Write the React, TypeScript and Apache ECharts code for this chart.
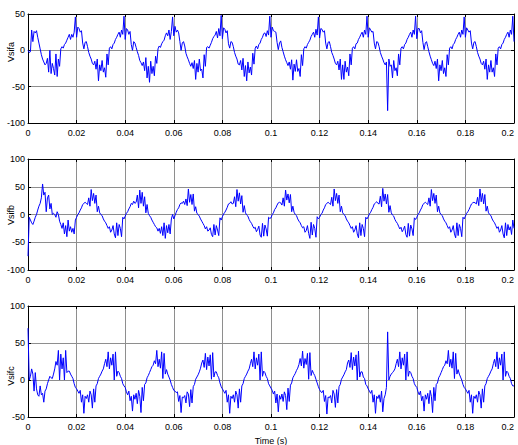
import React, { useEffect, useRef } from "react";
import * as echarts from "echarts";

// sample interval of the recorded waveforms (s)
const SAMPLE_STEP = 0.0005;

const xTickValues = [0, 0.02, 0.04, 0.06, 0.08, 0.1, 0.12, 0.14, 0.16, 0.18, 0.2];
const yTicksA = [-100, -50, 0, 50];
const yTicksB = [-100, -50, 0, 50, 100];
const yTicksC = [-50, 0, 50, 100];

const axisNames = ["Vsifa", "Vsifb", "Vsifc"];
const xAxisName = "Time (s)";

const vsifa = [
  0, -3, -2, 28, 12, 26, 24, 27, 18, 10, 2, -6, -12, -16, -20, -18, -11, -30, 0, -32, -18, -25, -34, -5, -36, -12, -22, 2, 5, 3, 8, 10, 14, 18, 22, 15, 22, 18, 25, 46,
  18, 32, 30, 25, 27, 10, 2, 11, 12, 5, -3, -8, -12, -18, -20, -15, -26, -12, -42, -20, -28, -14, -30, -24, -37, -5, -20, 3, 5, 2, 8, 10, 15, 18, 22, 25, 18, 28, 22, 47,
  15, 30, 28, 22, 26, 8, 0, 12, 10, 4, -2, -7, -14, -17, -21, -16, -28, -10, -38, -22, -44, -15, -32, -22, -35, -8, -18, 2, 6, 4, 9, 12, 14, 20, 24, 20, 28, 15, 26, 46,
  20, 33, 25, 28, 24, 12, 0, 10, 12, 6, -4, -9, -13, -18, -22, -17, -25, -14, -40, -18, -30, -12, -28, -26, -38, -6, -22, 4, 5, 3, 7, 11, 16, 19, 21, 26, 17, 30, 20, 48,
  16, 31, 29, 24, 27, 9, 3, 12, 11, 5, -3, -8, -12, -19, -20, -14, -27, -11, -36, -21, -42, -16, -31, -23, -34, -4, -19, 3, 6, 2, 8, 10, 15, 18, 23, 24, 19, 27, 21, 47,
  18, 32, 27, 26, 25, 11, 1, 10, 13, 4, -2, -8, -13, -17, -21, -16, -26, -13, -41, -19, -29, -13, -29, -25, -36, -6, -21, 2, 5, 3, 8, 11, 14, 19, 22, 25, 18, 29, 21, 46,
  17, 30, 29, 25, 27, 10, 2, 11, 12, 5, -3, -7, -12, -18, -20, -15, -27, -12, -40, -20, -40, -15, -30, -23, -35, -5, -20, 3, 5, 2, 9, 10, 15, 18, 22, 25, 18, 28, 22, 47,
  18, 31, 28, 25, 26, 10, 2, 12, 11, 5, -3, -8, -12, -17, -20, -16, -83, -12, -22, -20, -38, -14, -28, -24, -35, -5, -20, 3, 5, 2, 8, 10, 15, 18, 22, 25, 18, 28, 22, 47,
  16, 30, 30, 24, 27, 11, 1, 10, 12, 5, -2, -8, -13, -18, -21, -15, -25, -12, -42, -20, -28, -14, -32, -24, -36, -6, -20, 3, 5, 2, 8, 10, 15, 18, 22, 25, 18, 28, 22, 46,
  18, 31, 28, 25, 27, 10, 2, 11, 12, 5, -3, -8, -12, -18, -20, -15, -26, -12, -40, -20, -30, -14, -30, -24, -36, -5, -20, 3, 5, 2, 8, 10, 15, 18, 22, 25, 18, 28, 22, 47,
  12,
];

const vsifb = [
  -75, -5, -10, -15, -18, -12, -5, 0, 8, 15, 20, 30, 55, 35, 40, 5, 30, 35, 10, 20, 0, 2, 0, -5, 5, 0, -12, -18, -25, -15, -35, -20, -40, -10, -30, -22, -32, -25, -35, -10,
  -5, 0, 3, 8, 12, 18, 20, 22, 20, 18, 30, 15, 45, 25, 38, 20, 35, 5, 15, 3, 0, -2, -8, -12, -15, -20, -25, -22, -32, -28, -20, -35, -42, -15, -38, -18, -25, -40, -5, -8,
  -3, 2, 5, 10, 14, 20, 18, 24, 20, 22, 35, 12, 44, 20, 40, 15, 32, 3, 18, 2, -2, -5, -10, -14, -18, -22, -24, -30, -25, -34, -22, -38, -15, -43, -20, -33, -18, -35, -8, 0,
  -8, -2, 4, 9, 12, 18, 21, 20, 24, 18, 28, 16, 46, 22, 36, 18, 37, 6, 14, 2, 0, -3, -8, -12, -16, -20, -26, -22, -30, -28, -24, -36, -40, -18, -37, -20, -28, -38, -6, -10,
  -4, 1, 4, 8, 13, 19, 20, 23, 19, 20, 32, 14, 45, 24, 39, 19, 34, 4, 16, 3, -1, -3, -9, -13, -16, -21, -25, -23, -31, -27, -21, -37, -41, -16, -39, -19, -26, -39, -5, -7,
  -6, 0, 3, 9, 12, 17, 21, 22, 21, 17, 30, 15, 44, 26, 37, 21, 36, 5, 15, 4, 0, -2, -8, -12, -15, -20, -24, -22, -32, -29, -20, -34, -43, -14, -37, -18, -25, -41, -4, -8,
  -5, 0, 2, 8, 12, 18, 20, 22, 20, 18, 31, 15, 46, 25, 38, 20, 35, 5, 15, 3, 0, -2, -8, -12, -15, -20, -25, -22, -32, -28, -20, -35, -42, -15, -38, -18, -25, -40, -5, -8,
  -4, 1, 4, 9, 13, 19, 21, 23, 20, 19, 33, 14, 47, 24, 37, 19, 36, 4, 16, 3, -1, -3, -9, -13, -16, -21, -26, -23, -31, -27, -21, -36, -41, -16, -39, -19, -26, -38, -6, -9,
  -5, 0, 3, 8, 12, 18, 20, 22, 20, 18, 30, 15, 45, 25, 38, 20, 35, 5, 15, 3, 0, -2, -8, -12, -15, -20, -25, -22, -32, -28, -20, -35, -42, -15, -38, -18, -25, -40, -5, -8,
  -3, 2, 5, 9, 14, 19, 21, 22, 21, 19, 31, 16, 46, 23, 38, 19, 36, 6, 15, 3, 0, -2, -8, -12, -15, -20, -25, -22, -32, -28, -20, -35, -42, -15, -38, -18, -28, -22, -36, -10,
  -25,
];

const vsifc = [
  70, 0, 5, 15, 8, -15, 10, -12, -20, -22, -8, -20, -18, -30, -15, -12, -5, 0, 5, 3, 2, 8, 15, 25, 20, 40, 0, 35, 15, 30, 0, 40, 10, 12, 12, 8, 5, 2, -5, -10,
  -12, -15, -18, -14, -30, -20, -45, -22, -25, -20, -30, -15, -20, -38, -12, -30, -8, -5, 2, 5, 8, 12, 15, 22, 28, 18, 38, 15, 30, 20, 35, 0, 38, 5, 12, 10, 5, 2, -5, -8,
  -10, -16, -20, -15, -28, -22, -42, -20, -26, -18, -32, -14, -22, -44, -10, -28, -6, -4, 3, 6, 10, 14, 18, 20, 26, 22, 40, 18, 28, 16, 38, 2, 36, 8, 14, 8, 4, 0, -6, -10,
  -14, -15, -17, -16, -29, -21, -44, -23, -24, -21, -31, -16, -19, -36, -13, -31, -9, -6, 1, 4, 7, 11, 16, 23, 27, 17, 36, 14, 31, 19, 34, 1, 37, 4, 11, 11, 6, 3, -4, -9,
  -12, -15, -18, -14, -30, -20, -45, -22, -25, -20, -30, -15, -20, -38, -12, -30, -8, -5, 2, 5, 8, 12, 15, 22, 28, 18, 38, 15, 30, 20, 35, 0, 38, 5, 12, 10, 5, 2, -5, -8,
  -11, -14, -19, -15, -31, -19, -43, -21, -26, -19, -29, -16, -21, -40, -11, -29, -7, -4, 3, 6, 9, 13, 16, 21, 29, 19, 39, 16, 29, 21, 36, 1, 37, 6, 13, 9, 6, 1, -4, -9,
  -13, -16, -17, -14, -29, -21, -46, -23, -24, -21, -31, -14, -19, -37, -13, -31, -9, -6, 1, 4, 7, 11, 14, 23, 27, 17, 37, 14, 31, 19, 34, 0, 39, 4, 11, 11, 4, 2, -6, -8,
  -12, -15, -18, -14, -30, -20, -45, -22, -25, -20, -30, -15, -43, -25, -20, -10, 65, 0, 5, 8, 10, 12, 15, 22, 28, 18, 38, 15, 30, 20, 35, 0, 38, 5, 12, 10, 5, 2, -5, -8,
  -10, -16, -20, -15, -28, -22, -42, -20, -26, -18, -32, -14, -22, -44, -10, -28, -6, -4, 3, 6, 10, 14, 18, 20, 26, 22, 40, 18, 28, 16, 38, 2, 36, 8, 14, 8, 4, 0, -6, -10,
  -12, -15, -18, -14, -30, -20, -45, -22, -25, -20, -30, -15, -20, -38, -12, -30, -8, -5, 2, 5, 8, 12, 15, 22, 28, 18, 38, 15, 30, 20, 35, 0, 38, 5, 12, 10, 5, 2, -5, -8,
  -8,
];

const FONT = "'Liberation Sans', Arial, sans-serif";
const GRID_COLOR = "#8e8e8e";

const fmtX = (v: number) => String(parseFloat(v.toFixed(3)));

export default function App() {
  const ref = useRef<HTMLDivElement>(null);

  useEffect(() => {
    if (!ref.current) return;
    const chart = echarts.init(ref.current, undefined, { renderer: "svg" });

    const grids = [
      { top: 14, height: 109 },
      { top: 159, height: 111 },
      { top: 306, height: 111 },
    ];
    const yTicks = [yTicksA, yTicksB, yTicksC];
    const values = [vsifa, vsifb, vsifc];
    const nameY = [52, 215, 376];

    const xAxes: any[] = [];
    const yAxes: any[] = [];
    grids.forEach((_, i) => {
      xAxes.push({
        type: "value",
        gridIndex: i,
        position: "bottom",
        min: xTickValues[0],
        max: xTickValues[xTickValues.length - 1],
        interval: 0.02,
        name: i === 2 ? xAxisName : "",
        nameLocation: "middle",
        nameGap: 19,
        nameTextStyle: { fontFamily: FONT, fontSize: 9, color: "#000" },
        axisLine: { show: true, onZero: false, lineStyle: { color: "#000", width: 1 } },
        axisTick: { show: true, inside: true, length: 3, lineStyle: { color: "#000" } },
        axisLabel: {
          fontFamily: FONT,
          fontSize: 9,
          color: "#000",
          margin: 5,
          formatter: fmtX,
          alignMaxLabel: "right",
        },
        splitLine: { show: true, lineStyle: { color: GRID_COLOR, width: 1 } },
      });
      xAxes.push({
        type: "value",
        gridIndex: i,
        position: "top",
        min: xTickValues[0],
        max: xTickValues[xTickValues.length - 1],
        interval: 0.02,
        axisLine: { show: true, onZero: false, lineStyle: { color: "#000", width: 1 } },
        axisTick: { show: true, inside: true, length: 3, lineStyle: { color: "#000" } },
        axisLabel: { show: false },
        splitLine: { show: false },
      });
      const yt = yTicks[i];
      yAxes.push({
        type: "value",
        gridIndex: i,
        position: "left",
        min: yt[0],
        max: yt[yt.length - 1],
        interval: 50,
        axisLine: { show: true, onZero: false, lineStyle: { color: "#000", width: 1 } },
        axisTick: { show: true, inside: true, length: 3, lineStyle: { color: "#000" } },
        axisLabel: { fontFamily: FONT, fontSize: 9, color: "#000", margin: 3 },
        splitLine: { show: true, lineStyle: { color: GRID_COLOR, width: 1 } },
      });
      yAxes.push({
        type: "value",
        gridIndex: i,
        position: "right",
        min: yt[0],
        max: yt[yt.length - 1],
        interval: 50,
        axisLine: { show: true, onZero: false, lineStyle: { color: "#000", width: 1 } },
        axisTick: { show: true, inside: true, length: 3, lineStyle: { color: "#000" } },
        axisLabel: { show: false },
        splitLine: { show: false },
      });
    });

    const series = values.map((arr, i) => ({
      type: "line",
      xAxisIndex: i * 2,
      yAxisIndex: i * 2,
      showSymbol: false,
      symbol: "none",
      clip: true,
      lineStyle: { color: "#0000ff", width: 1 },
      data: arr.map((v, k) => [k * SAMPLE_STEP, v]),
    }));

    chart.setOption({
      animation: false,
      backgroundColor: "#fff",
      grid: grids.map((g) => ({
        left: 28,
        right: 4,
        top: g.top,
        height: g.height,
        containLabel: false,
        outerBoundsMode: "none",
      })),
      xAxis: xAxes,
      yAxis: yAxes,
      series,
      graphic: axisNames.map((n, i) => ({
        type: "text",
        x: 11,
        y: nameY[i],
        rotation: Math.PI / 2,
        style: {
          text: n,
          fontFamily: FONT,
          fontSize: 9,
          fill: "#000",
          align: "center",
          verticalAlign: "middle",
        },
      })),
    });

    return () => chart.dispose();
  }, []);

  return (
    <div
      ref={ref}
      style={{ position: "fixed", left: 0, top: 0, width: 518, height: 445, background: "#fff" }}
    />
  );
}
